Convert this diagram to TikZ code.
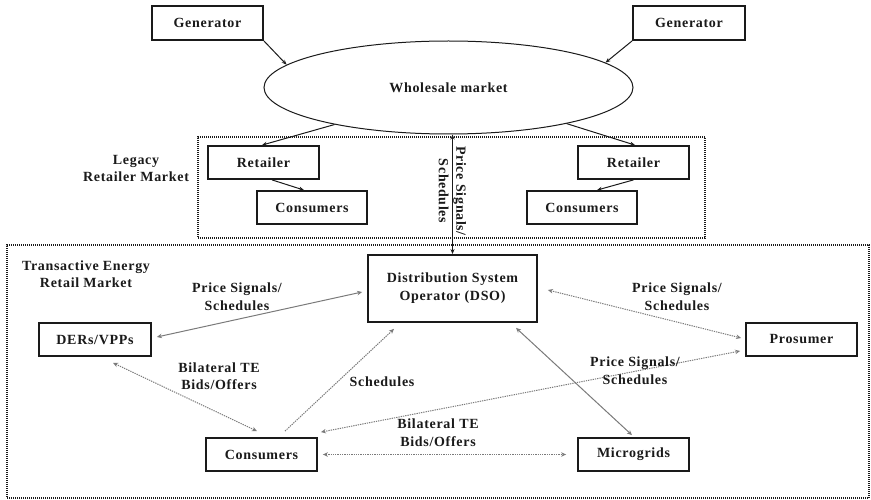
\documentclass[tikz,border=0pt]{standalone}
\usepackage{fontspec}
\setmainfont{Liberation Serif}
\newfontfamily\lbl{Liberation Serif}[LetterSpace=5]
\usetikzlibrary{shapes.geometric,arrows.meta}
\definecolor{ink}{HTML}{1A1A1A}
\definecolor{link}{HTML}{7A7A7A}
\begin{document}
\begin{tikzpicture}[x=1pt,y=-1pt,
  every node/.style={font={\lbl\bfseries\fontsize{14pt}{17.5pt}\selectfont},text=ink,inner sep=0pt},
  blk/.style={draw=ink,line width=1.8pt,minimum height=33pt,fill=white},
  frame/.style={draw=ink,line width=1.1pt,dash pattern=on 1pt off 1pt},
  lab/.style={align=center},
  feed/.style={draw=ink,line width=1pt,-{Stealth[length=5pt,width=4pt]}},
  feedboth/.style={draw=ink,line width=1pt,{Stealth[length=5pt,width=4pt]}-{Stealth[length=5pt,width=4pt]}},
  soft/.style={draw=link,line width=1pt,{Stealth[open,length=5pt,width=4.5pt]}-{Stealth[open,length=5pt,width=4.5pt]}},
  softone/.style={draw=link,line width=1pt,-{Stealth[open,length=5pt,width=4.5pt]}},
  fine/.style={dash pattern=on 1.3pt off 1pt}]
\useasboundingbox (0,0) rectangle (871,500);

% wholesale level
\node[blk,minimum width=111pt,minimum height=34pt] (gen1) at (207.5,23) {Generator};
\node[blk,minimum width=112pt,minimum height=34pt] (gen2) at (689,23) {Generator};
\node[draw=ink,line width=1pt,ellipse,minimum width=369pt,minimum height=93pt] (wm) at (448.5,87.5) {Wholesale market};

% legacy retail market
\node[frame,minimum width=507pt,minimum height=101pt] (legacy) at (451.5,187.5) {};
\node[lab] (legacylab) at (136,168.5) {Legacy\\Retailer Market};
\node[blk,minimum width=111pt] (ret1) at (263.5,162.5) {Retailer};
\node[blk,minimum width=110pt] (con1) at (312,207.5) {Consumers};
\node[blk,minimum width=111pt] (ret2) at (633.5,162.5) {Retailer};
\node[blk,minimum width=110pt] (con2) at (582,207.5) {Consumers};

% transactive energy retail market
\node[frame,minimum width=862pt,minimum height=253pt] (te) at (438,371.5) {};
\node[lab] (telab) at (86,274) {Transactive Energy\\Retail Market};
\node[blk,minimum width=169pt,minimum height=67pt] (dso) at (452.5,288.5) {};
\node[lab] (dsolab) at (452.5,288) {Distribution System\\Operator (DSO)};
\node[blk,minimum width=112pt] (der) at (95,339.5) {DERs/VPPs};
\node[blk,minimum width=111pt] (pros) at (801.5,339.5) {Prosumer};
\node[blk,minimum width=111pt] (cons) at (261.5,454.5) {Consumers};
\node[blk,minimum width=111pt] (micro) at (633.5,454.5) {Microgrids};

% wholesale connectors
\draw[feed] (gen1.south east) -- (wm.172);
\draw[feed] (gen2.south west) -- (wm.9);
\draw[feed] (wm.198) -- ([xshift=-1.5pt]ret1.north);
\draw[feed] (wm.343) -- ([xshift=1.5pt]ret2.north);
\draw[feed] ([xshift=8.5pt]ret1.south) -- ([xshift=-8pt]con1.north);
\draw[feed] (ret2.south) -- ([xshift=15pt]con2.north);
\draw[feedboth] (wm.south -| dso.north) -- (dso.north);
\node[lab,rotate=-90] (vlab) at (452.5,191) {Price Signals/\\Schedules};

% retail connectors
\draw[soft] ([xshift=-5pt,yshift=-3.5pt]dso.west) -- ([xshift=5pt,yshift=2.5pt]der.east);
\node[lab] (l1) at (237,296.5) {Price Signals/\\Schedules};
\draw[soft,fine] ([xshift=18pt,yshift=-6pt]der.south) -- ([xshift=-4.5pt,yshift=6pt]cons.north);
\node[lab] (l2) at (219,376) {Bilateral TE\\Bids/Offers};
\draw[softone,fine] ([xshift=23.5pt,yshift=6pt]cons.north) -- ([xshift=-58.5pt,yshift=-6pt]dso.south);
\node[lab] (l3) at (382,382) {Schedules};
\draw[soft,fine] ([xshift=10pt,yshift=-1.5pt]dso.east) -- ([xshift=-4pt,yshift=1.5pt]pros.west);
\node[lab] (l4) at (677,296.5) {Price Signals/\\Schedules};
\draw[soft,fine] ([xshift=3pt,yshift=5pt]cons.north east) -- ([xshift=-5pt,yshift=-11.5pt]pros.west);
\node[lab] (l5) at (635,370.5) {Price Signals/\\Schedules};
\draw[soft] ([xshift=63.5pt,yshift=-5pt]dso.south) -- ([xshift=-1.5pt,yshift=2pt]micro.north);
\draw[soft,fine] ([xshift=5pt]cons.east) -- ([xshift=-11pt]micro.west);
\node[lab] (l6) at (438,432.5) {Bilateral TE\\Bids/Offers};
\end{tikzpicture}
\end{document}
